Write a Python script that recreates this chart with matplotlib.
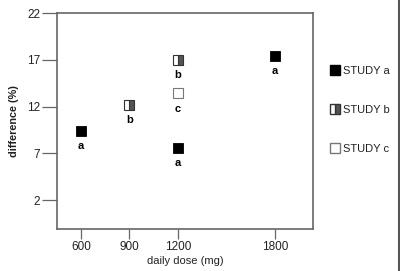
import matplotlib
matplotlib.use("Agg")
from matplotlib import pyplot as plt
from matplotlib.lines import Line2D

plt.rcParams['font.family'] = ['Liberation Sans', 'DejaVu Sans']

# study a
dose_a = [600, 1200, 1800]
diff_a = [9.4, 7.6, 17.4]
# study b
dose_b = [900, 1200]
diff_b = [12.2, 17.0]
# study c
dose_c = [1200]
diff_c = [13.4]

xticks = [600, 900, 1200, 1800]
yticks = [2, 7, 12, 17, 22]

fig = plt.figure(figsize=(4, 2.71), dpi=100)
ax = fig.add_axes([0.1425, 0.155, 0.64, 0.797])

ms = 7.5
ax.plot(dose_a, diff_a, 's', color='black', ms=ms, mec='black', mew=0.6)
ax.plot(dose_b, diff_b, 's', ms=ms, mec='#333333', mew=0.8,
        fillstyle='right', markerfacecolor='#555555', markerfacecoloralt='white')
ax.plot(dose_c, diff_c, 's', ms=ms, mfc='white', mec='#777777', mew=0.8)

for xs, ys, lab in [(dose_a, diff_a, 'a'), (dose_b, diff_b, 'b'), (dose_c, diff_c, 'c')]:
    for x, y in zip(xs, ys):
        ax.annotate(lab, (x, y), xytext=(0, -7.5), textcoords='offset points',
                    ha='center', va='top', fontsize=8, fontweight='bold')

ax.set_xlim(452, 2035)
ax.set_ylim(-1.1, 22)
ax.set_xticks(xticks)
ax.set_yticks(yticks)
ax.tick_params(axis='both', labelsize=8.5, color='#666666', width=0.9,
               labelcolor='#222222')
ax.tick_params(axis='x', length=7, pad=2)
ax.tick_params(axis='y', length=11, pad=1)
for s in ax.spines.values():
    s.set_color('#666666')
    s.set_linewidth(1.2)

ax.set_xlabel('daily dose (mg)', fontsize=8, labelpad=2, color='#222222')
ax.set_ylabel('difference (%)', fontsize=7.8, fontweight='bold', labelpad=6,
              color='#222222')

handles = [
    Line2D([], [], ls='none', marker='s', color='black', ms=7),
    Line2D([], [], ls='none', marker='s', ms=7, mec='#333333', fillstyle='right',
           markerfacecolor='#555555', markerfacecoloralt='white'),
    Line2D([], [], ls='none', marker='s', ms=7, mfc='white', mec='#777777'),
]
ax.legend(handles, ['STUDY a', 'STUDY b', 'STUDY c'], loc='upper left',
          bbox_to_anchor=(1.02, 0.80), frameon=False, fontsize=8,
          labelspacing=2.6, handletextpad=0.1, handlelength=1.2,
          labelcolor='#222222')

fig.add_artist(Line2D([0.997, 0.997], [0, 1], color='#555555', lw=1.5,
                      transform=fig.transFigure))

fig.savefig('out.png', dpi=100)
